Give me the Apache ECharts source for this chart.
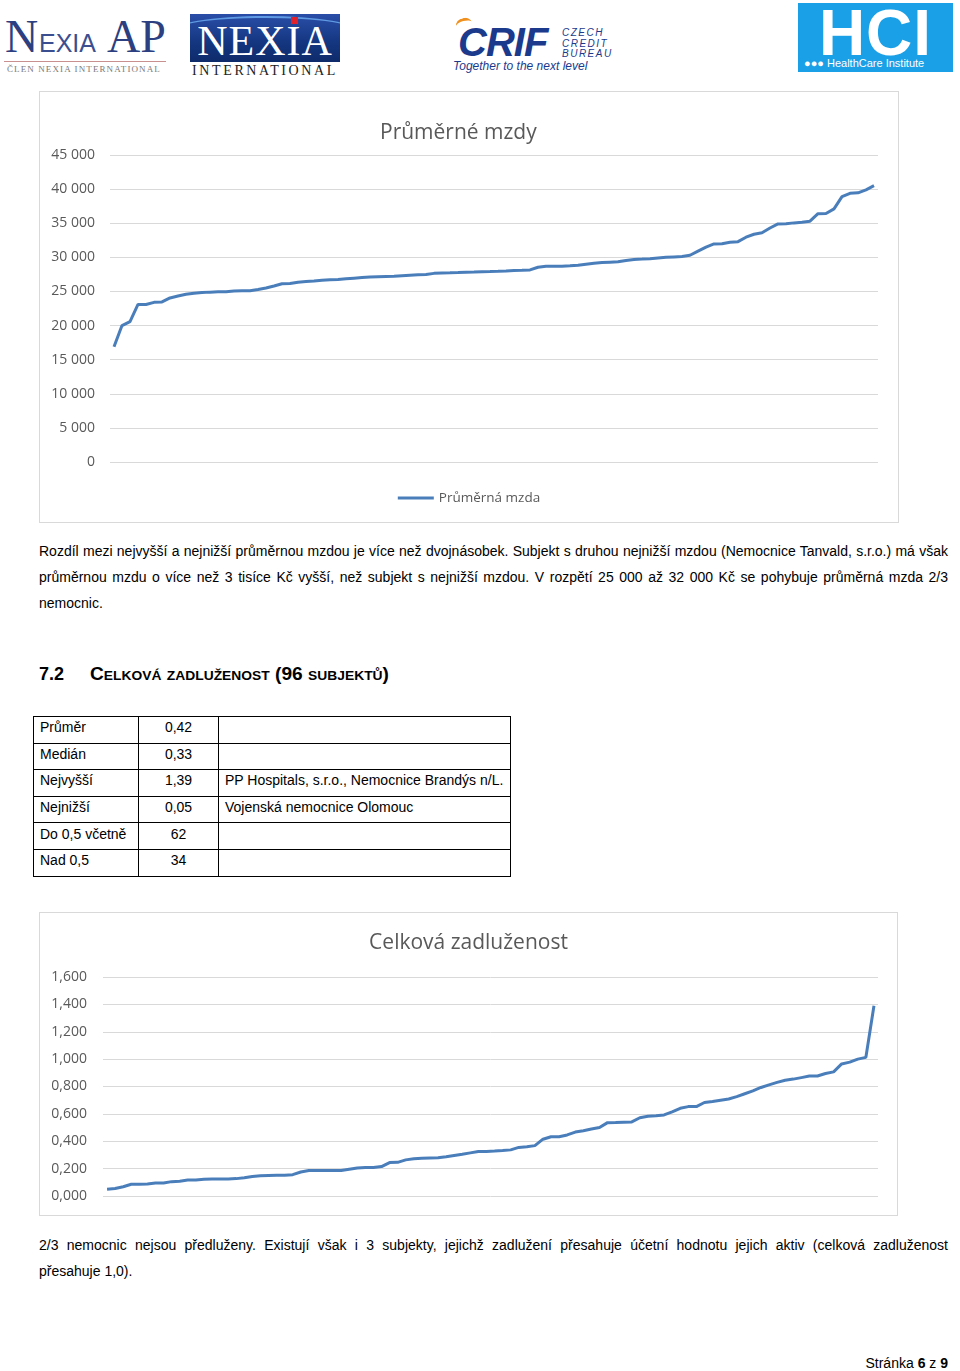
<!DOCTYPE html>
<html>
<head>
<meta charset="utf-8">
<script src="https://cdn.jsdelivr.net/npm/echarts@6/dist/echarts.min.js"></script>
<style>
  html,body{margin:0;padding:0;background:#fff;}
  body{width:960px;height:1371px;position:relative;overflow:hidden;font-family:"Liberation Sans",Arial,sans-serif;color:#000;}
  .abs{position:absolute;}
  .line{position:absolute;left:39px;font-size:14px;line-height:16px;white-space:nowrap;}
  .chartbox{position:absolute;border:1px solid #d9d9d9;box-sizing:border-box;}
  table.stats{position:absolute;left:33px;top:716px;border-collapse:collapse;font-size:14px;}
  table.stats td{border:1px solid #000;padding:0 6px 5px 6px;height:20.6px;vertical-align:middle;white-space:nowrap;}
  .serif{font-family:"Liberation Serif","DejaVu Serif",serif;}
</style>
</head>
<body>

<!-- Logos -->
<div class="abs serif" style="left:5px;top:14px;color:#2c3f80;font-size:46px;line-height:46px;">N</div>
<div class="abs" style="left:39px;top:30px;color:#3b4f90;font-size:25px;line-height:26px;font-family:'Liberation Sans',sans-serif;">EXIA</div>
<div class="abs serif" style="left:107px;top:14px;color:#2c3f80;font-size:46px;line-height:46px;">AP</div>
<div class="abs" style="left:4px;top:61px;width:162px;height:1px;background:#c99090;"></div>
<div class="abs serif" style="left:7px;top:64px;color:#7a7a7a;font-size:9px;line-height:10px;letter-spacing:1.1px;">ČLEN NEXIA INTERNATIONAL</div>

<div class="abs" style="left:190px;top:14px;width:150px;height:48px;background:linear-gradient(180deg,#2a4ea8 0%,#143680 60%,#0e2a6a 100%);overflow:hidden;">
  <div class="abs" style="left:-20px;top:2px;width:190px;height:30px;border-top:2px solid rgba(120,190,255,0.7);border-radius:50%;"></div>
  <div class="abs" style="left:101px;top:3px;width:7px;height:7px;background:#e0202a;"></div>
  <div class="abs serif" style="left:0;top:6px;width:150px;text-align:center;color:#fff;font-size:42px;line-height:42px;letter-spacing:1px;">NEXIA</div>
</div>
<div class="abs serif" style="left:190px;top:64px;width:150px;text-align:center;color:#222;font-size:14px;line-height:14px;letter-spacing:2.6px;">INTERNATIONAL</div>

<div class="abs" style="left:456px;top:18px;width:16px;height:9px;border-top:3px solid #f0901e;border-radius:60% 60% 0 0;transform:rotate(-15deg);"></div>
<div class="abs" style="left:458px;top:22px;color:#1b3a8c;font-size:40px;line-height:40px;font-weight:bold;font-style:italic;font-family:'Liberation Sans',sans-serif;letter-spacing:-1px;">CRIF</div>
<div class="abs" style="left:562px;top:28px;color:#1b3a8c;font-size:10px;line-height:10.5px;font-style:italic;letter-spacing:1.5px;">CZECH<br>CREDIT<br>BUREAU</div>
<div class="abs" style="left:453px;top:60px;color:#1b3a8c;font-size:12px;line-height:12px;font-style:italic;">Together to the next level</div>

<div class="abs" style="left:798px;top:3px;width:155px;height:69px;background:#1aa0e6;">
  <div class="abs" style="left:0;top:0px;width:155px;text-align:center;color:#fff;font-size:64px;line-height:60px;font-weight:bold;font-family:'Liberation Sans',sans-serif;letter-spacing:1px;">HCI</div>
  <div class="abs" style="left:6px;top:54px;color:#fff;font-size:11px;line-height:12px;white-space:nowrap;">●●● HealthCare Institute</div>
</div>

<!-- Chart 1 -->
<div class="chartbox" style="left:39px;top:91px;width:860px;height:432px;">
  <div id="c1" style="width:858px;height:430px;"></div>
</div>

<!-- Paragraph 1 -->
<div class="line fit" data-w="909" data-j="1" style="top:543px;">Rozdíl mezi nejvyšší a nejnižší průměrnou mzdou je více než dvojnásobek. Subjekt s druhou nejnižší mzdou (Nemocnice Tanvald, s.r.o.) má však</div>
<div class="line fit" data-w="909" data-j="1" style="top:569px;">průměrnou mzdu o více než 3 tisíce Kč vyšší, než subjekt s nejnižší mzdou. V rozpětí 25 000 až 32 000 Kč se pohybuje průměrná mzda 2/3</div>
<div class="line" style="top:595px;">nemocnic.</div>

<!-- Heading -->
<div class="abs" style="left:39px;top:664px;font-size:18px;line-height:20px;font-weight:bold;">7.2</div>
<div class="abs fit" data-w="299" style="left:90px;top:664px;font-size:18px;line-height:20px;font-weight:bold;font-variant:small-caps;white-space:nowrap;">Celková zadluženost (96 subjektů)</div>

<!-- Table -->
<table class="stats">
  <tr><td style="width:92px;">Průměr</td><td style="width:67px;text-align:center;">0,42</td><td style="width:279px;"></td></tr>
  <tr><td>Medián</td><td style="text-align:center;">0,33</td><td></td></tr>
  <tr><td>Nejvyšší</td><td style="text-align:center;">1,39</td><td>PP Hospitals, s.r.o., Nemocnice Brandýs n/L.</td></tr>
  <tr><td>Nejnižší</td><td style="text-align:center;">0,05</td><td>Vojenská nemocnice Olomouc</td></tr>
  <tr><td>Do 0,5 včetně</td><td style="text-align:center;">62</td><td></td></tr>
  <tr><td>Nad 0,5</td><td style="text-align:center;">34</td><td></td></tr>
</table>

<!-- Chart 2 -->
<div class="chartbox" style="left:39px;top:912px;width:859px;height:304px;">
  <div id="c2" style="width:857px;height:302px;"></div>
</div>

<!-- Paragraph 2 -->
<div class="line fit" data-w="909" data-j="1" style="top:1237px;">2/3 nemocnic nejsou předluženy. Existují však i 3 subjekty, jejichž zadlužení přesahuje účetní hodnotu jejich aktiv (celková zadluženost</div>
<div class="line" style="top:1263px;">přesahuje 1,0).</div>

<!-- Footer -->
<div class="abs" style="right:12px;top:1355px;font-size:14px;line-height:16px;">Stránka <b>6</b> z <b>9</b></div>

<script>
// ---------- DATA ----------
const wageTitle = 'Průměrné mzdy';
const wageSeriesName = 'Průměrná mzda';
// Average wages (Kč), hospitals sorted ascending
const wages = [
  16900, 20000, 20570, 23100, 23080, 23400, 23460, 24050, 24330, 24580,
  24750, 24840, 24900, 24940, 24970, 25050, 25110, 25110, 25300, 25500,
  25800, 26120, 26180, 26360, 26450, 26520, 26650, 26730, 26750, 26850,
  26940, 27030, 27100, 27160, 27190, 27220, 27300, 27380, 27430, 27470,
  27650, 27720, 27740, 27770, 27810, 27850, 27900, 27920, 27950, 28000,
  28070, 28100, 28150, 28550, 28680, 28690, 28690, 28760, 28850, 29000,
  29130, 29230, 29290, 29350, 29550, 29690, 29740, 29800, 29900, 30000,
  30060, 30120, 30300, 30900, 31500, 31960, 31980, 32200, 32300, 32950,
  33380, 33600, 34300, 34900, 34940, 35050, 35150, 35300, 36400, 36420,
  37100, 38900, 39390, 39460, 39900, 40500
];
const wageAxisMax = 45000;
const wageAxisStep = 5000;

const debtTitle = 'Celková zadluženost';
const debtSeriesName = 'Celková zadluženost';
// Total indebtedness ratio, hospitals sorted ascending
const debt = [
  0.050, 0.055, 0.068, 0.086, 0.086, 0.088, 0.095, 0.095, 0.105, 0.108,
  0.117, 0.117, 0.122, 0.124, 0.125, 0.125, 0.127, 0.134, 0.143, 0.148,
  0.150, 0.152, 0.152, 0.156, 0.175, 0.186, 0.186, 0.186, 0.186, 0.187,
  0.196, 0.205, 0.208, 0.208, 0.215, 0.244, 0.246, 0.264, 0.272, 0.276,
  0.278, 0.280, 0.287, 0.296, 0.305, 0.315, 0.325, 0.326, 0.328, 0.332,
  0.337, 0.355, 0.360, 0.368, 0.415, 0.433, 0.433, 0.446, 0.467, 0.477,
  0.490, 0.500, 0.536, 0.537, 0.539, 0.541, 0.572, 0.583, 0.587, 0.592,
  0.615, 0.641, 0.653, 0.653, 0.683, 0.691, 0.700, 0.709, 0.726, 0.747,
  0.768, 0.793, 0.812, 0.830, 0.846, 0.854, 0.865, 0.876, 0.877, 0.895,
  0.907, 0.965, 0.978, 1.000, 1.013, 1.390
];
const debtAxisMax = 1.6;
const debtAxisStep = 0.2;

// category = rank of hospital
const wageRanks = wages.map((_, i) => String(i + 1));
const debtRanks = debt.map((_, i) => String(i + 1));

// ---------- CHARTS ----------
const FONT = '"Open Sans", "Noto Sans", sans-serif';
const GRAY = '#595959';
const LINE = '#4a7ebb';

const c1 = echarts.init(document.getElementById('c1'), null, {renderer: 'canvas'});
c1.setOption({
  animation: false,
  title: {text: wageTitle, left: 335, top: 26,
    textStyle: {fontFamily: FONT, fontSize: 21, fontWeight: 'normal', color: GRAY}},
  legend: {bottom: 12, left: 'center', icon: 'rect', itemWidth: 36, itemHeight: 3, itemGap: 4,
    data: [wageSeriesName],
    textStyle: {fontFamily: FONT, fontSize: 13.5, color: GRAY}},
  grid: {left: 70, right: 20, top: 63, bottom: 60},
  xAxis: {type: 'category', data: wageRanks, boundaryGap: true,
    axisLine: {show: false}, axisTick: {show: false}, axisLabel: {show: false}, splitLine: {show: false}},
  yAxis: {type: 'value', min: 0, max: wageAxisMax, interval: wageAxisStep,
    axisLine: {show: false}, axisTick: {show: false},
    axisLabel: {margin: 15, color: GRAY, fontFamily: FONT, fontSize: 14,
      formatter: v => v === 0 ? '0' : String(v).replace(/\B(?=(\d{3})+(?!\d))/g, ' ')},
    splitLine: {lineStyle: {color: '#d9d9d9', width: 1}}},
  series: [{type: 'line', name: wageSeriesName, data: wages, symbol: 'none', showSymbol: false,
    lineStyle: {color: LINE, width: 3}, itemStyle: {color: LINE}}]
});

const c2 = echarts.init(document.getElementById('c2'), null, {renderer: 'canvas'});
c2.setOption({
  animation: false,
  title: {text: debtTitle, left: 'center', top: 15,
    textStyle: {fontFamily: FONT, fontSize: 21, fontWeight: 'normal', color: GRAY}},
  grid: {left: 63, right: 19, top: 64, bottom: 19},
  xAxis: {type: 'category', data: debtRanks, boundaryGap: true,
    axisLine: {show: false}, axisTick: {show: false}, axisLabel: {show: false}, splitLine: {show: false}},
  yAxis: {type: 'value', min: 0, max: debtAxisMax, interval: debtAxisStep,
    axisLine: {show: false}, axisTick: {show: false},
    axisLabel: {margin: 16, color: GRAY, fontFamily: FONT, fontSize: 14,
      formatter: v => v.toFixed(3).replace('.', ',')},
    splitLine: {lineStyle: {color: '#d9d9d9', width: 1}}},
  series: [{type: 'line', name: debtSeriesName, data: debt, symbol: 'none', showSymbol: false,
    lineStyle: {color: LINE, width: 3}, itemStyle: {color: LINE}}]
});

// ---------- text fitting (justify lines to target width) ----------
document.querySelectorAll('.fit').forEach(el => {
  const W = +el.dataset.w;
  el.style.display = 'inline-block';
  const w = el.getBoundingClientRect().width;
  if (el.dataset.j && w < W) {
    const n = (el.textContent.match(/ /g) || []).length;
    el.style.wordSpacing = ((W - w) / n) + 'px';
  } else {
    el.style.transformOrigin = '0 0';
    el.style.transform = 'scaleX(' + (W / w) + ')';
  }
});
</script>
</body>
</html>
